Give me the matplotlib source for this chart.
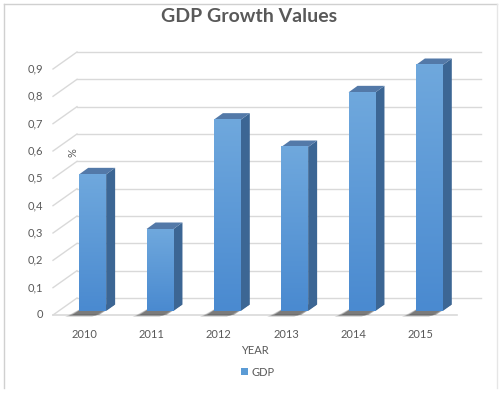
import numpy as np
import matplotlib
matplotlib.use("Agg")
import matplotlib.pyplot as plt
from matplotlib.patches import Polygon, Rectangle
from matplotlib.lines import Line2D

years = ["2010", "2011", "2012", "2013", "2014", "2015"]
gdp = [0.5, 0.3, 0.7, 0.6, 0.8, 0.9]
yticks = [0, 0.1, 0.2, 0.3, 0.4, 0.5, 0.6, 0.7, 0.8, 0.9]

plt.rcParams['font.family'] = ['Lato', 'DejaVu Sans']
txt = '#595959'
grid = '#d9d9d9'

W, H = 499, 393
fig = plt.figure(figsize=(W / 100, H / 100), dpi=100)
ax = fig.add_axes([53 / W, (H - 315) / H, 404 / W, 246 / H])
ax.set_xlim(-0.5, 5.5)
ax.set_ylim(0, 0.9)
ax.axis('off')

# pixel -> data unit helpers
px_x = 6 / 404.0
px_y = 0.9 / 246.0

def off(dx, dy):
    return dx * px_x, dy * px_y

# back wall gridlines + left diagonals
bx, by = off(24, 17)
for v in yticks:
    ax.plot([-0.5 + bx, 5.5 + bx], [v + by, v + by], color=grid, lw=1, clip_on=False, zorder=1)
    ax.plot([-0.5, -0.5 + bx], [v, v + by], color=grid, lw=1, clip_on=False, zorder=1)
    ax.text(-0.5 - 10 * px_x, v, ('%.1f' % v).replace('.', ',') if v else '0',
            ha='right', va='center', fontsize=8, color=txt)
# floor front edge
ax.plot([-0.5, 5.5], [0, 0], color=grid, lw=1.2, clip_on=False, zorder=1)

# bars
w = 0.4
fx, fy = off(6, 4)        # bar front plane
sx, sy = off(9, 6.5)      # bar depth
grad = np.linspace(0, 1, 100).reshape(-1, 1)
cmap = matplotlib.colors.LinearSegmentedColormap.from_list('b', ['#4a8ad0', '#6fa8dd'])
for i, v in enumerate(gdp):
    x0 = i - w / 2 + fx
    x1 = i + w / 2 + fx
    y0 = fy
    y1 = v + fy
    # shadow on floor
    for k, a in [(1.0, 0.15), (0.75, 0.25), (0.5, 0.35)]:
        ox, oy = off(-14 * k, -4 * k)
        ax.add_patch(Polygon([(x0 + ox, y0 + oy - 2 * px_y), (x1 + ox, y0 + oy - 2 * px_y),
                              (x1 + sx, y0 + sy), (x0 + sx, y0 + sy)],
                             closed=True, color='#202020', alpha=a, lw=0, zorder=2, clip_on=False))
    # front face with gradient
    rect = Rectangle((x0, y0), w, v, lw=0, facecolor='#5b9bd5', zorder=3, clip_on=False)
    ax.add_patch(rect)
    im = ax.imshow(grad, extent=(x0, x1, y0, y1), origin='lower', cmap=cmap,
                   aspect='auto', zorder=3.1, clip_on=False)
    im.set_clip_path(rect)
    # side face
    ax.add_patch(Polygon([(x1, y0), (x1 + sx, y0 + sy), (x1 + sx, y1 + sy), (x1, y1)],
                         closed=True, color='#3c6694', lw=0, zorder=3, clip_on=False))
    # top face
    ax.add_patch(Polygon([(x0, y1), (x1, y1), (x1 + sx, y1 + sy), (x0 + sx, y1 + sy)],
                         closed=True, color='#5379a8', lw=0, zorder=3, clip_on=False))
    # year label
    ax.text(i - 0.04, -20 * px_y, years[i], ha='center', va='center', fontsize=8, color=txt)

ax.set_xlim(-0.5, 5.5)
ax.set_ylim(0, 0.9)

fig.text(249 / W, 1 - 17 / H, 'GDP Growth Values', ha='center', va='center',
         fontsize=14, fontweight='bold', color=txt)
fig.text(73 / W, 1 - 153 / H, '%', ha='center', va='center', rotation=90,
         fontsize=8, color=txt)
fig.text(255 / W, 1 - 350 / H, 'YEAR', ha='center', va='center', fontsize=8, color=txt)

# legend
fig.patches.append(Rectangle((241 / W, 1 - 375 / H), 7 / W, 7 / H, transform=fig.transFigure,
                             facecolor='#5b9bd5', lw=0))
fig.text(252 / W, 1 - 372 / H, 'GDP', ha='left', va='center', fontsize=8, color=txt)

# chart border
fig.add_artist(Line2D([4 / W, 4 / W], [1 - 4 / H, 1 - 388 / H], color='#d0d0d0', lw=1))
fig.add_artist(Line2D([4 / W, 497 / W], [1 - 4 / H, 1 - 4 / H], color='#d0d0d0', lw=1))
fig.add_artist(Line2D([497 / W, 497 / W], [1 - 4 / H, 1 - 388 / H], color='#e6e6e6', lw=1))

fig.savefig('out.png', dpi=100)
